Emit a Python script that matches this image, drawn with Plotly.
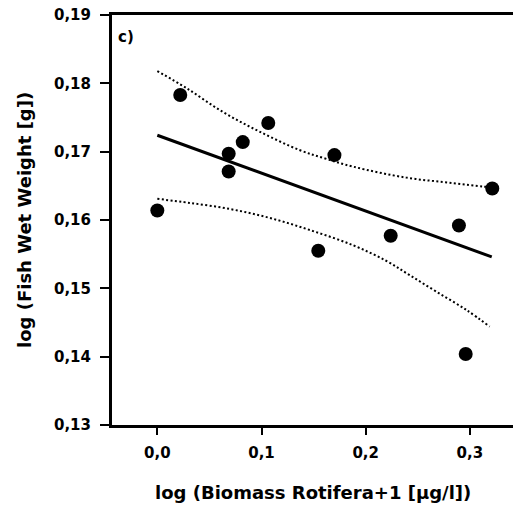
import plotly.graph_objects as go

# Data points
x_pts = [0.0, 0.022, 0.0685, 0.0685, 0.082, 0.1065, 0.170, 0.1545, 0.224, 0.2895, 0.3215, 0.296]
y_pts = [0.1614, 0.1783, 0.1697, 0.1671, 0.1714, 0.1742, 0.1695, 0.1555, 0.1577, 0.1592, 0.1646, 0.1404]

# Regression line
fit_x = [0.0, 0.321]
fit_y = [0.1724, 0.1546]

# Confidence bands
upper_x = [0.0, 0.028, 0.063, 0.0986, 0.137, 0.161, 0.188, 0.239, 0.284, 0.3126, 0.321]
upper_y = [0.1818, 0.1793, 0.1758, 0.1729, 0.1702, 0.1690, 0.1678, 0.1662, 0.1654, 0.1649, 0.1648]
lower_x = [0.0, 0.031, 0.070, 0.108, 0.147, 0.188, 0.220, 0.2425, 0.268, 0.297, 0.319]
lower_y = [0.1631, 0.1625, 0.1616, 0.1603, 0.1585, 0.1563, 0.1540, 0.1519, 0.1495, 0.1468, 0.1444]

x_ticks = [0.0, 0.1, 0.2, 0.3]
x_ticklabels = ["0,0", "0,1", "0,2", "0,3"]
y_ticks = [0.13, 0.14, 0.15, 0.16, 0.17, 0.18, 0.19]
y_ticklabels = ["0,13", "0,14", "0,15", "0,16", "0,17", "0,18", "0,19"]

FONT = "DejaVu Sans, Arial, sans-serif"

fig = go.Figure()
dotdash = "2px,2.4px"
fig.add_trace(go.Scatter(x=upper_x, y=upper_y, mode="lines",
                         line=dict(color="black", width=2, dash=dotdash, shape="spline")))
fig.add_trace(go.Scatter(x=lower_x, y=lower_y, mode="lines",
                         line=dict(color="black", width=2, dash=dotdash, shape="spline")))
fig.add_trace(go.Scatter(x=fit_x, y=fit_y, mode="lines",
                         line=dict(color="black", width=3)))
fig.add_trace(go.Scatter(x=x_pts, y=y_pts, mode="markers",
                         marker=dict(color="black", size=14, line=dict(width=0))))

fig.update_layout(
    width=513, height=509,
    margin=dict(l=112, r=0, t=15, b=84),
    paper_bgcolor="white", plot_bgcolor="white",
    showlegend=False,
    font=dict(family=FONT, color="black"),
    annotations=[
        dict(text="<b>c)</b>", x=0, y=1, xref="paper", yref="paper",
             xanchor="left", yanchor="top", xshift=4, yshift=-11, showarrow=False,
             font=dict(size=15, family=FONT, color="black")),
        dict(text="<b>log (Biomass Rotifera+1 [µg/l])</b>", x=0.5, y=0, xref="paper", yref="paper",
             xanchor="center", yanchor="middle", yshift=-67, showarrow=False,
             font=dict(size=18, family=FONT, color="black")),
        dict(text="<b>log (Fish Wet Weight [g])</b>", x=0, y=0.5, xref="paper", yref="paper",
             xanchor="center", yanchor="middle", xshift=-88, textangle=-90, showarrow=False,
             font=dict(size=18, family=FONT, color="black")),
    ],
)
fig.update_xaxes(
    range=[-0.0435, 0.3414], tickvals=x_ticks, ticktext=x_ticklabels,
    showgrid=False, zeroline=False,
    showline=True, linecolor="black", linewidth=3, mirror=True,
    ticks="outside", ticklen=7, tickwidth=2, tickcolor="black",
    tickfont=dict(size=15, family=FONT, weight="bold"),
    ticklabelstandoff=5,
)
fig.update_yaxes(
    range=[0.13, 0.19], tickvals=y_ticks, ticktext=y_ticklabels,
    showgrid=False, zeroline=False,
    showline=True, linecolor="black", linewidth=3,
    ticks="outside", ticklen=9, tickwidth=2, tickcolor="black",
    tickfont=dict(size=15, family=FONT, weight="bold"),
    ticklabelstandoff=6,
)

fig.write_html("out.html", config={"displayModeBar": False},
               post_script="document.body.style.margin='0';")
